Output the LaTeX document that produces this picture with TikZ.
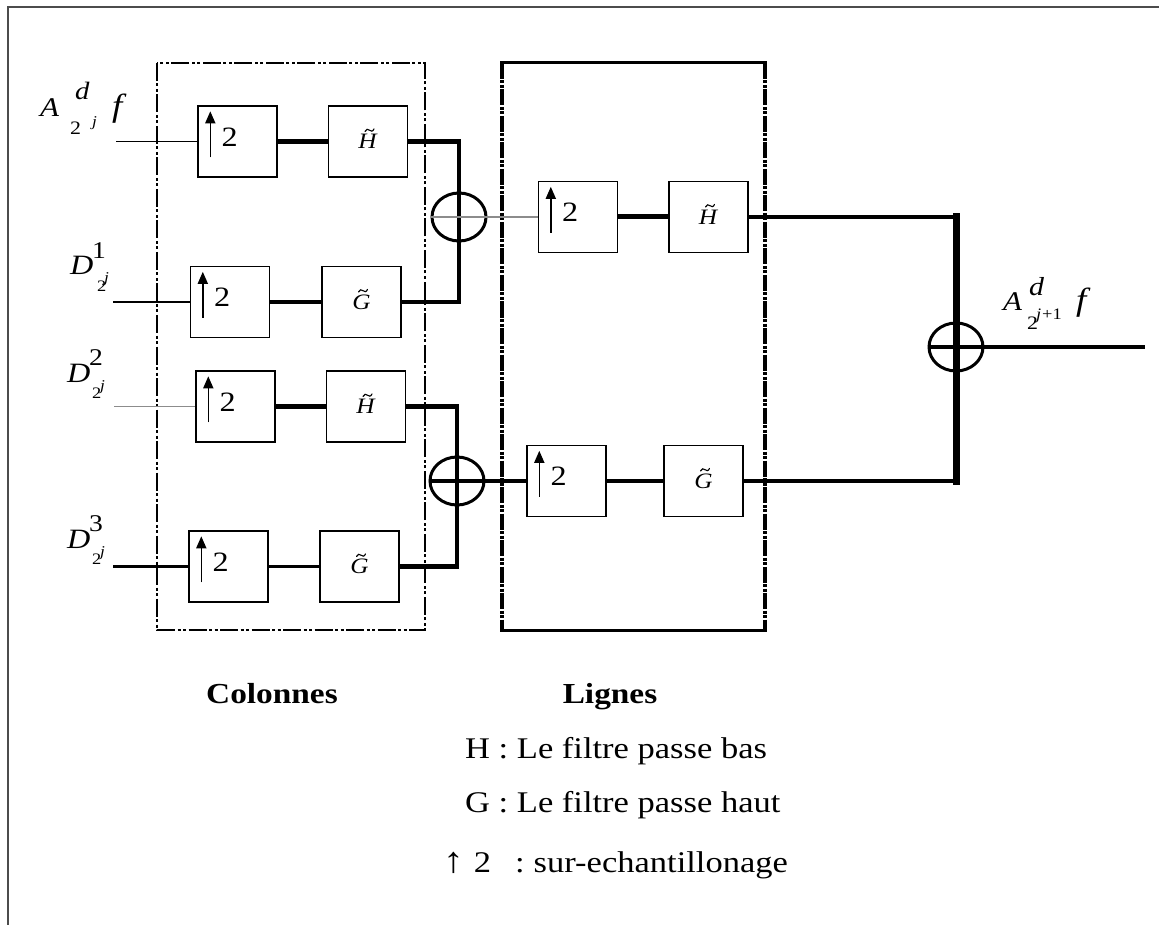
\documentclass[tikz,border=0pt]{standalone}
\usepackage{fontspec}
\setmainfont{Liberation Serif}[FakeStretch=1.15]
\usetikzlibrary{arrows.meta,shapes.geometric}
\newcommand\fsz[1]{\fontsize{#1}{#1}\selectfont}
\newcommand\at[3]{\rlap{\hspace*{#1pt}\raisebox{#2pt}{#3}}}
\newcommand\mkupbox[3]{%
  \node[blk] (#1) at (#2,#3) {};
  \draw[uparr] ([xshift=13pt,yshift=-52pt]#1.north west) -- ([xshift=13pt,yshift=-6pt]#1.north west);
  \node[two] (#1t) at ([xshift=24pt,yshift=-41pt]#1.north west) {2};
}
\newcommand\mkfilt[4]{%
  \node[flt] (#1) at (#2,#3) {\textit{#4}};
  \draw[tildew] ([shift={(-3pt,10pt)}]#1.center) .. controls ([shift={(-1.8pt,12.8pt)}]#1.center) and ([shift={(0pt,12.6pt)}]#1.center) .. ([shift={(1.5pt,11.3pt)}]#1.center) .. controls ([shift={(3pt,10pt)}]#1.center) and ([shift={(4.8pt,9.6pt)}]#1.center) .. ([shift={(6pt,12.6pt)}]#1.center);
}
\begin{document}
\begin{tikzpicture}[x=1pt,y=-1pt,
  blk/.style={draw,line width=1.4pt,minimum width=79pt,minimum height=71pt,inner sep=0pt},
  flt/.style={blk,font=\fsz{22}},
  tildew/.style={line width=1.1pt,line cap=round},
  uparr/.style={line width=1.6pt,-{Triangle[length=12pt,width=10pt]}},
  two/.style={anchor=base west,inner sep=0pt,font=\fsz{28}},
  adder/.style={draw,ellipse,line width=3pt,minimum width=54pt,minimum height=48pt,inner sep=0pt},
  lbl/.style={anchor=base west,inner sep=0pt},
  thinw/.style={line width=1.3pt},
  grayw/.style={line width=1.6pt,color=black!45},
  medw/.style={line width=3.2pt},
  thickw/.style={line width=4.2pt},
  busw/.style={line width=7pt,line cap=rect},
  colframe/.style={line width=2.6pt,dash pattern=on 18pt off 2.5pt on 3pt off 2.5pt on 3pt off 2.5pt},
  sideframe/.style={line width=4pt,dash pattern=on 16pt off 1.5pt on 3pt off 1.5pt on 3pt off 1.5pt},
  legend/.style={anchor=base west,inner sep=0pt,font=\fsz{30}},
  title/.style={anchor=base,inner sep=0pt,font=\fsz{29}\bfseries}]
\useasboundingbox (0,0) rectangle (1159,925);
\fill[white] (0,0) rectangle (1159,925);
% outer frame
\draw[line width=2pt,color=black!70] (8,925) -- (8,7) -- (1159,7);
% group frames
\draw[colframe] (157,63) rectangle (425,630);
\draw[line width=3pt] (500,63) -- (767,63);
\draw[line width=3pt] (500,630) -- (767,630);
\draw[sideframe] (502,63) -- (502,630);
\draw[sideframe] (765,63) -- (765,630);
% Colonnes boxes
\mkupbox{u1}{237.5}{141.5}
\mkfilt{h1}{368}{141.5}{H}
\mkupbox{u2}{230}{302}
\mkfilt{g2}{361.5}{302}{G}
\mkupbox{u3}{235.5}{406.5}
\mkfilt{h3}{366}{406.5}{H}
\mkupbox{u4}{228.5}{566.5}
\mkfilt{g4}{359.5}{566.5}{G}
% Lignes boxes
\mkupbox{lu1}{578}{217}
\mkfilt{lh1}{708.5}{217}{H}
\mkupbox{lu2}{566.5}{481}
\mkfilt{lg2}{703.5}{481}{G}
% adders
\node[adder] (s1) at (459,217) {};
\node[adder] (s2) at (457,481) {};
\node[adder] (s3) at (956,347) {};
% inputs
\coordinate (in1) at (116,141.5);
\coordinate (in2) at (113,302);
\coordinate (in3) at (114,406.5);
\coordinate (in4) at (113,566.5);
\coordinate (out) at (1145,347);
\draw[thinw] (in1) -- (u1.west);
\draw[thinw] (in2) -- (u2.west);
\draw[grayw] (in3) -- (u3.west);
\draw[medw] (in4) -- (u4.west);
% up -> filter
\draw[thickw] (u1) -- (h1);
\draw[thickw] (u2) -- (g2);
\draw[thickw] (u3) -- (h3);
\draw[medw] (u4) -- (g4);
% filters -> adders (columns)
\draw[thickw,line join=miter] (h1.east) -- (h1.east -| s1.center) -- (g2.east -| s1.center) -- (g2.east);
\draw[thickw,line join=miter] (h3.east) -- (h3.east -| s2.center) -- (g4.east -| s2.center) -- (g4.east);
% adders -> rows
\draw[grayw] (s1.west) -- (lu1.west);
\draw[medw] (s2.west) -- (lu2.west);
\draw[line width=5pt] (lu1) -- (lh1);
\draw[thickw] (lu2) -- (lg2);
% rows -> final adder
\draw[thickw] (lh1.east) -- (lh1.east -| s3.center);
\draw[thickw] (lg2.east) -- (lg2.east -| s3.center);
\draw[busw] (lh1.east -| s3.center) -- (lg2.east -| s3.center);
\draw[thickw] (s3.west) -- (out);
% input labels
\node[lbl] (la) at (40,117) {\at{0}{0}{\fsz{27}\itshape A}\at{35}{17}{\fsz{25}\itshape d}\at{30}{-18}{\fsz{19}2}\at{52}{-10}{\fsz{15}\itshape j}\at{72}{0}{\fsz{32}\itshape f}\hspace*{100pt}};
\node[lbl] (ld1) at (70,275) {\at{0}{0}{\fsz{28}\itshape D}\at{22}{16}{\fsz{24}1}\at{27}{-17}{\fsz{16}2}\at{34}{-8}{\fsz{15}\itshape j}\hspace*{48pt}};
\node[lbl] (ld2) at (67,382) {\at{0}{0}{\fsz{28}\itshape D}\at{22}{17}{\fsz{24}2}\at{25}{-16}{\fsz{16}2}\at{33}{-8}{\fsz{15}\itshape j}\hspace*{48pt}};
\node[lbl] (ld3) at (67,548) {\at{0}{0}{\fsz{28}\itshape D}\at{22}{17}{\fsz{24}3}\at{25}{-16}{\fsz{16}2}\at{33}{-8}{\fsz{15}\itshape j}\hspace*{48pt}};
% output label
\node[lbl] (lo) at (1003,311) {\at{0}{0}{\fsz{27}\itshape A}\at{26}{15}{\fsz{26}\itshape d}\at{24}{-18}{\fsz{19}2}\at{33}{-9}{\fsz{16}\itshape j}\at{39}{-9}{\fsz{16}+1}\at{73}{0}{\fsz{32}\itshape f}\hspace*{100pt}};
% titles and legend
\node[title] (tcol) at (272,703) {Colonnes};
\node[title] (tlig) at (610,703) {Lignes};
\node[legend] (leg1) at (465,758) {H : Le filtre passe bas};
\node[legend] (leg2) at (465,812) {G : Le filtre passe haut};
\node[legend] (leg3) at (443,872) {{\fsz{36}↑}\hspace{10pt}2\hspace{24pt}:\hspace{9pt}sur-echantillonage};
\end{tikzpicture}
\end{document}
